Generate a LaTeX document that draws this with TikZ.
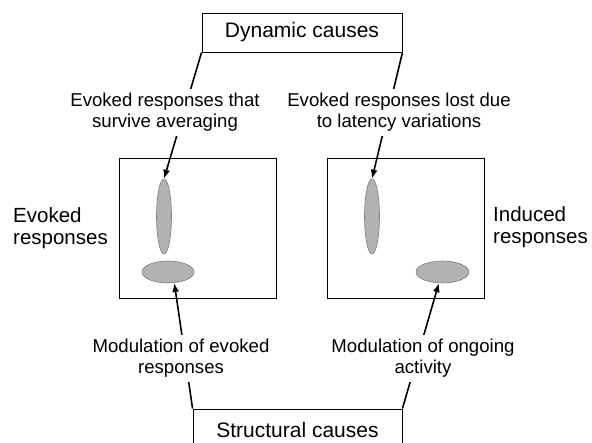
\documentclass[tikz,border=0pt]{standalone}
\usepackage{fontspec}
\setmainfont{Liberation Sans}
\usetikzlibrary{shapes.geometric,arrows.meta}

\begin{document}
\begin{tikzpicture}[x=1pt,y=-1pt,
    causebox/.style={draw, line width=0.9pt, minimum width=200pt, minimum height=39pt,
        inner sep=0pt, font=\fontsize{21}{25}\selectfont},
    panel/.style={draw, line width=0.9pt, minimum width=157pt, minimum height=140pt, inner sep=0pt},
    blob/.style={ellipse, draw=black!50, fill=black!30, line width=0.6pt, inner sep=0pt},
    note/.style={align=center, fill=white, inner xsep=1pt, inner ysep=4pt,
        font=\fontsize{18.6}{21}\selectfont},
    side/.style={align=left, anchor=west, inner sep=0pt, font=\fontsize{20.5}{22}\selectfont},
    arr/.style={line width=1.6pt, -{Latex[length=9pt,width=7pt]}}]

    \useasboundingbox (0,0) rectangle (592,443);

    % causes, top and bottom (bottom box runs off the page)
    \node[causebox] (dyn) at (302,32.5) {Dynamic causes};
    \node[causebox, minimum width=209pt, minimum height=42pt] (str) at (297.5,430) {Structural causes};

    % the two time-frequency panels
    \node[panel] (evk) at (197.5,228) {};
    \node[panel] (ind) at (405.5,228) {};

    % responses inside the panels
    \node[blob, minimum width=15pt, minimum height=75pt] (evkA) at (164,216.5) {};
    \node[blob, minimum width=52pt, minimum height=22pt] (evkB) at (168,272) {};
    \node[blob, minimum width=15pt, minimum height=75pt] (indA) at (372,216.5) {};
    \node[blob, minimum width=53pt, minimum height=22pt] (indB) at (442.5,272) {};

    % arrows from the causes
    \draw[arr] (dyn.south west) -- (evkA.north);
    \draw[arr] (dyn.south east) -- (indA.north);
    \draw[arr] (str.north west) -- (evkB.-60);
    \draw[arr] (str.north east) -- (indB.-108);

    % labels sitting over the arrows
    \node[note] (evkNote) at (165,112.5) {Evoked responses that\\survive averaging};
    \node[note] (indNote) at (399,112.5) {Evoked responses lost due\\to latency variations};
    \node[note] (evkMod) at (181,358.5) {Modulation of evoked\\responses};
    \node[note] (indMod) at (423,358.5) {Modulation of ongoing\\activity};

    % panel names
    \node[side] (evkLbl) at (13,228.5) {Evoked\\responses};
    \node[side] (indLbl) at (493,227) {Induced\\responses};
\end{tikzpicture}
\end{document}
